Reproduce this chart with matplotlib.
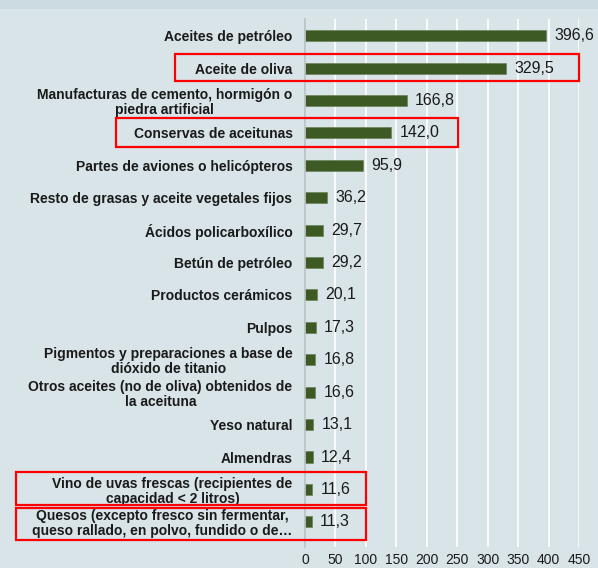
import matplotlib.pyplot as plt
import matplotlib.transforms as mtransforms
from matplotlib.patches import Rectangle

plt.rcParams['font.family'] = ['Liberation Sans', 'DejaVu Sans']

# data
categories = [
    "Aceites de petróleo",
    "Aceite de oliva",
    "Manufacturas de cemento, hormigón o\npiedra artificial",
    "Conservas de aceitunas",
    "Partes de aviones o helicópteros",
    "Resto de grasas y aceite vegetales fijos",
    "Ácidos policarboxílico",
    "Betún de petróleo",
    "Productos cerámicos",
    "Pulpos",
    "Pigmentos y preparaciones a base de\ndióxido de titanio",
    "Otros aceites (no de oliva) obtenidos de\nla aceituna",
    "Yeso natural",
    "Almendras",
    "Vino de uvas frescas (recipientes de\ncapacidad < 2 litros)",
    "Quesos (excepto fresco sin fermentar,\nqueso rallado, en polvo, fundido o de…",
]
values = [396.6, 329.5, 166.8, 142.0, 95.9, 36.2, 29.7, 29.2, 20.1, 17.3,
          16.8, 16.6, 13.1, 12.4, 11.6, 11.3]
x_ticks = [0, 50, 100, 150, 200, 250, 300, 350, 400, 450]
highlighted = [1, 3, 14, 15]

bg = '#d9e4e9'
bar_color = '#3d5a25'

fig = plt.figure(figsize=(5.98, 5.68), dpi=100, facecolor=bg)
# darker strip at the very top
fig.patches.append(Rectangle((0, 1 - 9 / 568), 1, 9 / 568, transform=fig.transFigure,
                             facecolor='#ccdbe1', edgecolor='none', zorder=0))

ax = fig.add_axes([305 / 598, 1 - 547 / 568, (579 - 305) / 598, (547 - 19) / 568])
ax.set_facecolor(bg)

y = list(range(len(categories)))
ax.barh(y, values, height=0.34, color=bar_color, edgecolor='#6d8457', linewidth=0.5, zorder=3)

for yi, v in zip(y, values):
    ax.annotate(f"{v:.1f}".replace('.', ','), (v, yi), xytext=(6, 0),
                textcoords='offset points', va='center', ha='left',
                fontsize=11.5, color='#1a1a1a')

ax.set_xlim(0, 450)
ax.set_ylim(15.5 + 9 / 32.5, -0.5 - 0.5 / 32.5)
ax.set_xticks(x_ticks)
ax.set_xticklabels([str(t) for t in x_ticks], fontsize=10, color='#1a1a1a')
ax.set_yticks(y)
ax.set_yticklabels(categories, fontsize=10, fontweight='bold', color='#1a1a1a',
                   multialignment='center', linespacing=1.08)
ax.tick_params(axis='both', length=0)
ax.tick_params(axis='y', pad=9)
ax.tick_params(axis='x', pad=4)

ax.grid(axis='x', color='white', linewidth=1.2, zorder=1)
for s in ['top', 'right', 'bottom']:
    ax.spines[s].set_visible(False)
ax.spines['left'].set_color('#b8bfc3')
ax.spines['left'].set_linewidth(1.2)
ax.spines['left'].set_zorder(4)

# red boxes around highlighted products (x in figure pixels, y in data units)
trans = mtransforms.blended_transform_factory(fig.transFigure, ax.transData)
boxes = [
    (175, 579, 1, 0.45, 0.40),
    (116, 458, 3, 0.47, 0.42),
    (16, 366, 14, 0.55, 0.47),
    (16, 366, 15, 0.44, 0.56),
]
for x0, x1, idx, up, down in boxes:
    rect = Rectangle((x0 / 598, idx - up), (x1 - x0) / 598, up + down,
                     transform=trans, fill=False, edgecolor='#ff0000',
                     linewidth=1.6, clip_on=False, zorder=5)
    fig.patches.append(rect)

fig.savefig('out.png', dpi=100, facecolor=bg)
